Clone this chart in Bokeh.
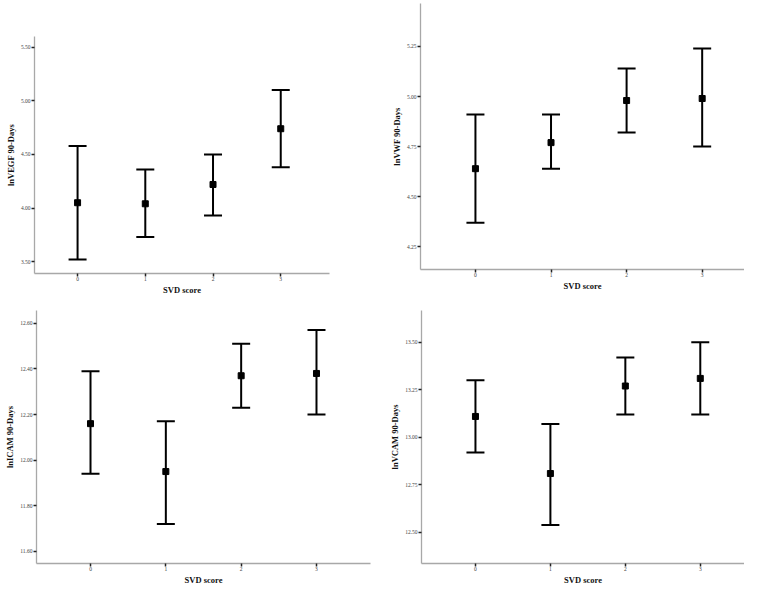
from bokeh.plotting import figure
from bokeh.models import ColumnDataSource, Whisker, TeeHead, Range1d, FixedTicker, NumeralTickFormatter
from bokeh.layouts import column, row
from bokeh.embed import file_html
from bokeh.resources import INLINE

scores = [0, 1, 2, 3]
score_labels = ["0", "1", "2", "3"]

vegf_mean = [4.05, 4.04, 4.22, 4.74]
vegf_low = [3.52, 3.73, 3.93, 4.38]
vegf_high = [4.58, 4.36, 4.50, 5.10]
vegf_ticks = [3.5, 4.0, 4.5, 5.0, 5.5]

vwf_mean = [4.64, 4.77, 4.98, 4.99]
vwf_low = [4.37, 4.64, 4.82, 4.75]
vwf_high = [4.91, 4.91, 5.14, 5.24]
vwf_ticks = [4.25, 4.5, 4.75, 5.0, 5.25]

icam_mean = [12.16, 11.95, 12.37, 12.38]
icam_low = [11.94, 11.72, 12.23, 12.20]
icam_high = [12.39, 12.17, 12.51, 12.57]
icam_ticks = [11.6, 11.8, 12.0, 12.2, 12.4, 12.6]

vcam_mean = [13.11, 12.81, 13.27, 13.31]
vcam_low = [12.92, 12.54, 13.12, 13.12]
vcam_high = [13.30, 13.07, 13.42, 13.50]
vcam_ticks = [12.5, 12.75, 13.0, 13.25, 13.5]

FONT = "Liberation Serif"


def panel(mean, low, high, ticks, ylabel, xr, yr, size, borders):
    w_, h_ = size
    left, right, top, bottom = borders
    p = figure(width=w_, height=h_, output_backend="svg", toolbar_location=None,
               title_location=None,
               x_range=Range1d(*xr), y_range=Range1d(*yr),
               min_border_left=left, min_border_right=right,
               min_border_top=top, min_border_bottom=bottom)
    p.title.visible = False
    p.outline_line_color = None
    p.xgrid.visible = False
    p.ygrid.visible = False
    p.background_fill_color = "white"
    p.border_fill_color = "white"

    src = ColumnDataSource(dict(x=scores, mean=mean, low=low, high=high))
    w = Whisker(source=src, base="x", upper="high", lower="low", dimension="height",
                line_color="black", line_width=2,
                upper_head=TeeHead(size=18, line_width=2, line_color="black"),
                lower_head=TeeHead(size=18, line_width=2, line_color="black"))
    p.add_layout(w)
    p.scatter("x", "mean", source=src, marker="square", size=6,
              fill_color="black", line_color="black")

    p.xaxis.ticker = FixedTicker(ticks=scores)
    p.xaxis.major_label_overrides = {s: l for s, l in zip(scores, score_labels)}
    p.yaxis.ticker = FixedTicker(ticks=ticks)
    p.yaxis.formatter = NumeralTickFormatter(format="0.00")
    p.xaxis.axis_label = "SVD score"
    p.yaxis.axis_label = ylabel
    for ax in (p.xaxis[0], p.yaxis[0]):
        ax.axis_line_color = "#a8a8a8"
        ax.axis_line_width = 1.3
        ax.major_tick_line_color = "#222222"
        ax.major_tick_line_width = 1.5
        ax.major_tick_in = 0
        ax.major_tick_out = 3
        ax.minor_tick_line_color = None
        ax.major_label_text_font = FONT
        ax.major_label_text_font_size = "5.5px"
        ax.major_label_text_color = "#444444"
        ax.major_label_standoff = 1
        ax.axis_label_text_font = FONT
        ax.axis_label_text_font_size = "8.5px"
        ax.axis_label_text_font_style = "bold"
        ax.axis_label_text_color = "#111111"
        ax.axis_label_standoff = 2
    p.xaxis.major_label_standoff = 0
    p.xaxis.axis_label_standoff = 1
    return p


p1 = panel(vegf_mean, vegf_low, vegf_high, vegf_ticks, "lnVEGF 90-Days",
           (-0.636, 3.72), (3.39, 5.60), (376, 298), (34, 47, 36, 25))
p2 = panel(vwf_mean, vwf_low, vwf_high, vwf_ticks, "lnVWF 90-Days",
           (-0.727, 3.56), (4.137, 5.464), (368, 298), (44, 0, 3, 29))
p3 = panel(icam_mean, icam_low, icam_high, icam_ticks, "lnICAM 90-Days",
           (-0.717, 3.717), (11.547, 12.656), (376, 290), (36, 6, 12, 25))
p4 = panel(vcam_mean, vcam_low, vcam_high, vcam_ticks, "lnVCAM 90-Days",
           (-0.72, 3.59), (12.337, 13.667), (368, 290), (45, 0, 12, 25))

layout = column(row(column(p1), column(p2)), row(column(p3), column(p4)))
open("out.html", "w").write(file_html(layout, INLINE))
